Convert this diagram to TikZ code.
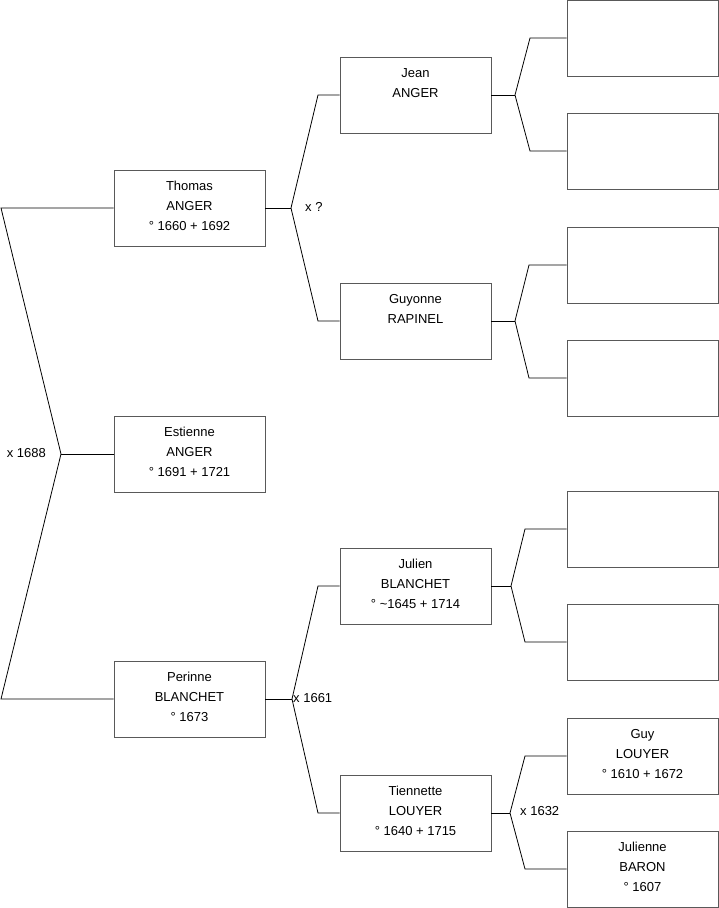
\documentclass[tikz,border=0pt]{standalone}
\usepackage{fontspec}
\setmainfont{Liberation Sans}
\begin{document}
\begin{tikzpicture}[x=1pt,y=-1pt,
  person/.style={draw=black!65, line width=0.9pt, minimum width=151pt, minimum height=76pt, inner sep=0pt},
  ptext/.style={align=center, inner sep=0pt, yshift=2pt, font=\fontsize{13}{20}\selectfont},
  link/.style={draw=black, line width=0.8pt},
  lbl/.style={font=\fontsize{13}{15}\selectfont, inner sep=0pt}]
\useasboundingbox (0,0) rectangle (719,908);
% generation 1-2
\node[person] (thomas) at (189.5,208) {};
\node[person] (estienne) at (189.5,454) {};
\node[person] (perinne) at (189.5,699) {};
\node[ptext] (thomas-t) at (thomas) {Thomas\\ANGER\\° 1660 + 1692};
\node[ptext] (estienne-t) at (estienne) {Estienne\\ANGER\\° 1691 + 1721};
\node[ptext] (perinne-t) at (perinne) {Perinne\\BLANCHET\\° 1673};
% generation 3
\node[person] (jean) at (415.5,95) {};
\node[person] (guyonne) at (415.5,321) {};
\node[person] (julien) at (415.5,586) {};
\node[person] (tiennette) at (415.5,813) {};
\node[ptext] (jean-t) at (jean) {Jean\\ANGER\\~};
\node[ptext] (guyonne-t) at (guyonne) {Guyonne\\RAPINEL\\~};
\node[ptext] (julien-t) at (julien) {Julien\\BLANCHET\\° \textasciitilde 1645 + 1714};
\node[ptext] (tiennette-t) at (tiennette) {Tiennette\\LOUYER\\° 1640 + 1715};
% generation 4
\node[person] (r1) at (642.5,38) {};
\node[person] (r2) at (642.5,151) {};
\node[person] (r3) at (642.5,265) {};
\node[person] (r4) at (642.5,378) {};
\node[person] (r5) at (642.5,529) {};
\node[person] (r6) at (642.5,642) {};
\node[person] (guy) at (642.5,756) {};
\node[person] (julienne) at (642.5,869) {};
\node[ptext] (guy-t) at (guy) {Guy\\LOUYER\\° 1610 + 1672};
\node[ptext] (julienne-t) at (julienne) {Julienne\\BARON\\° 1607};
% couple Thomas / Perinne
\coordinate (a1) at (1,208);
\coordinate (a2) at (61,454);
\coordinate (a3) at (1,699);
\draw[link] (thomas.west) -- (a1) -- (a2) -- (a3) -- (perinne.west);
\draw[link] (a2) -- (estienne.west);
\node[lbl, anchor=east] (m1) at (46,453) {x 1688};
% parents of Thomas
\coordinate (b0) at (291,208);
\coordinate (b1) at (318,95);
\coordinate (b2) at (318,321);
\draw[link] (thomas.east) -- (b0);
\draw[link] (jean.west) -- (b1) -- (b0) -- (b2) -- (guyonne.west);
\node[lbl, anchor=west] (m2) at (305,207) {x ?};
% parents of Perinne
\coordinate (c0) at (292,699);
\coordinate (c1) at (318,586);
\coordinate (c2) at (318,813);
\draw[link] (perinne.east) -- (c0);
\draw[link] (julien.west) -- (c1) -- (c0) -- (c2) -- (tiennette.west);
\node[lbl, anchor=west] (m3) at (293,698) {x 1661};
% parents of Jean
\coordinate (d0) at (515,95);
\coordinate (d1) at (530,38);
\coordinate (d2) at (530,151);
\draw[link] (jean.east) -- (d0);
\draw[link] (r1.west) -- (d1) -- (d0) -- (d2) -- (r2.west);
% parents of Guyonne
\coordinate (e0) at (515,321);
\coordinate (e1) at (529,265);
\coordinate (e2) at (529,378);
\draw[link] (guyonne.east) -- (e0);
\draw[link] (r3.west) -- (e1) -- (e0) -- (e2) -- (r4.west);
% parents of Julien
\coordinate (f0) at (511,586);
\coordinate (f1) at (525,529);
\coordinate (f2) at (525,642);
\draw[link] (julien.east) -- (f0);
\draw[link] (r5.west) -- (f1) -- (f0) -- (f2) -- (r6.west);
% parents of Tiennette
\coordinate (g0) at (510,813);
\coordinate (g1) at (525,756);
\coordinate (g2) at (525,869);
\draw[link] (tiennette.east) -- (g0);
\draw[link] (guy.west) -- (g1) -- (g0) -- (g2) -- (julienne.west);
\node[lbl, anchor=west] (m4) at (520,811) {x 1632};
\end{tikzpicture}
\end{document}
